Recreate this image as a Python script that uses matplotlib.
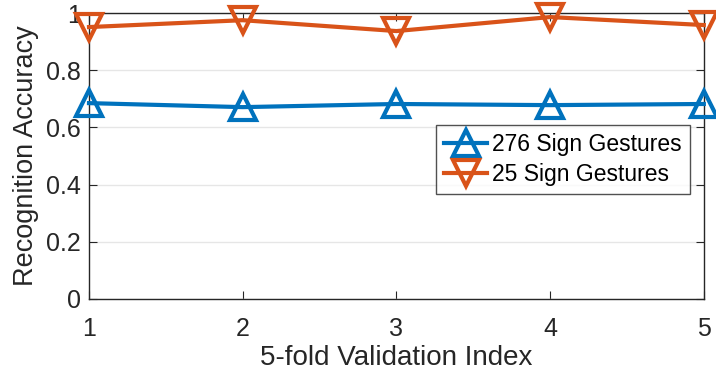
import matplotlib
matplotlib.use("Agg")
import matplotlib.pyplot as plt

plt.rcParams['font.family'] = ['Liberation Sans', 'DejaVu Sans']

folds = [1, 2, 3, 4, 5]
acc_276 = [0.685, 0.671, 0.682, 0.678, 0.682]
acc_25 = [0.951, 0.975, 0.937, 0.986, 0.958]
labels = ["276 Sign Gestures", "25 Sign Gestures"]

blue = "#0072BD"
orange = "#D95319"

fig = plt.figure(figsize=(7.16, 3.73), dpi=100)
ax = fig.add_axes([0.1243, 0.1984, 0.8587, 0.7666])

ax.plot(folds, acc_276, color=blue, lw=3, marker="^", ms=19, mfc="none",
        mew=3, label=labels[0], clip_on=False, zorder=3)
ax.plot(folds, acc_25, color=orange, lw=3, marker="v", ms=19, mfc="none",
        mew=3, label=labels[1], clip_on=False, zorder=3)

ax.set_xlim(1, 5)
ax.set_ylim(0, 1)
ax.set_xticks(folds)
ax.set_yticks([0, 0.2, 0.4, 0.6, 0.8, 1])
ax.set_yticklabels(["0", "0.2", "0.4", "0.6", "0.8", "1"])
ax.tick_params(direction="in", top=True, right=True, labelsize=18, length=6,
               color="#262626", labelcolor="#262626")
ax.tick_params(axis="x", pad=13)
ax.tick_params(axis="y", pad=6)
ax.yaxis.grid(True, color="#e6e6e6", lw=1)
ax.set_axisbelow(True)
for s in ax.spines.values():
    s.set_color("#262626")
    s.set_linewidth(1)

ax.set_xlabel("5-fold Validation Index", fontsize=20, color="#262626", labelpad=3)
ax.set_ylabel("Recognition Accuracy", fontsize=19.5, color="#262626", labelpad=5)

leg = ax.legend(loc="upper right", bbox_to_anchor=(0.977, 0.608), fontsize=16.5,
                frameon=True, fancybox=False, edgecolor="#262626",
                handlelength=1.9, handletextpad=0.2, borderpad=0.35,
                labelspacing=0.3, borderaxespad=0)
leg.get_frame().set_linewidth(1)

fig.savefig("out.png", dpi=100)
